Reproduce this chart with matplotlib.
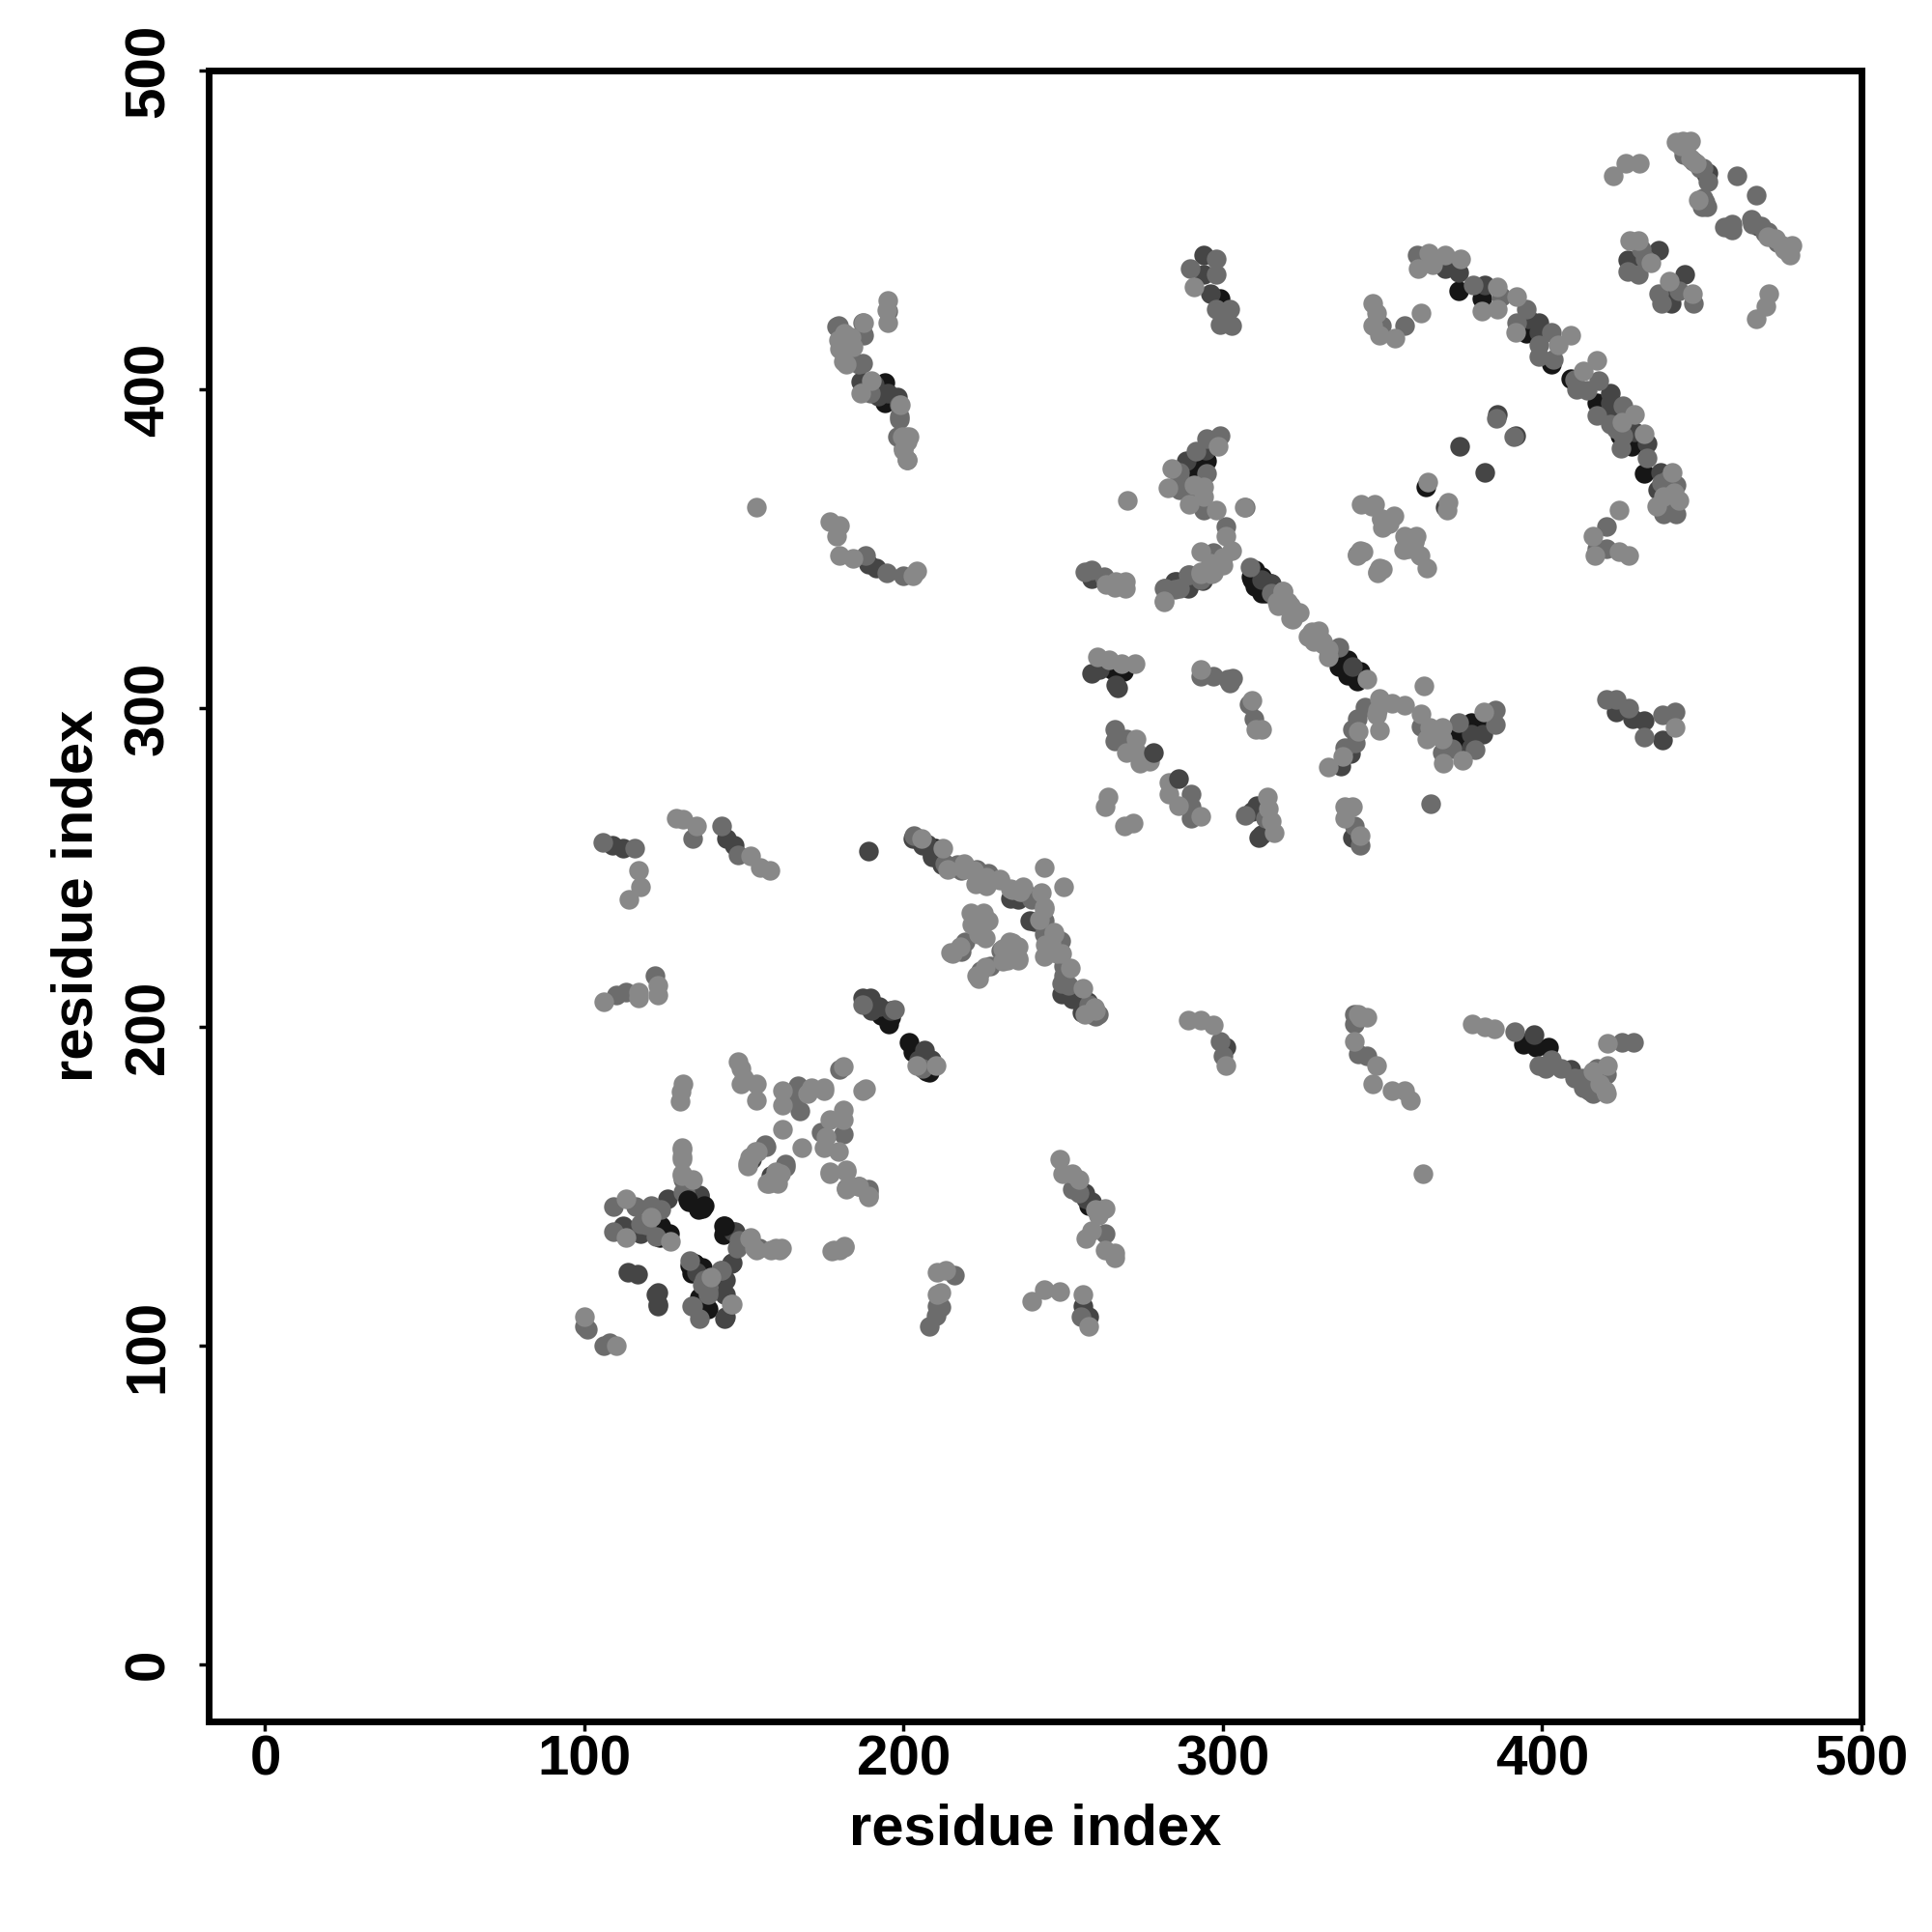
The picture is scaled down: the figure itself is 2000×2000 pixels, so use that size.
import matplotlib
matplotlib.use('Agg')
import matplotlib.pyplot as plt

# contact map points, one list per grey tone
light_pts = [
    (106,208),(117,211),(123,213),(123,210),(117,209),
    (148,189),(149,187),(150,184),(149,182),(154,182),(154,177),(162,180),(162,175.5),(171,181),(175,181),(175,180),
    (170,179),(181,187.7),(188,180.6),(187,180),(162,168),(168,162),(181,174),(181,171),(177,171),(175.6,165.5),
    (175,162),(179.7,161),(177,154),(182,155),(182,149),(186,150),(189,147),(153.6,161),(152,159),(151,157.4),
    (160.6,154),(159,152),(157.7,151),(160.6,151),
    (131,182),(130.4,179.6),(130,176.6),(130.7,162),(130.7,159.4),(130.7,154),(134,152),
    (113,146),(113,134),(127,132.6),(152,134),(154,130),(161,130),(158.3,130),(178,130),(181.4,131),(180,130),
    (146,113),(100,109),(110,100),(211.6,116.5),(210.4,116),(210.4,123),(213.3,123.6),
    (240,114),(244,117.5),(249,117),(256,116),(258,106),
    (249,158.4),(249.8,154),(252.7,154),(255,152),(263,143),(260,142.7),(259,136),(257,133.6),(263,130),(266,129),(266,127.6),
    (222,249),(226,247),(230,246),(234,243),(243,242),(244,250),(250,244),
    (244,237),(246,226),(248,223),(260,205),(247,229),
    (214.7,223.3),(217.8,225),(221.6,232),(225.5,234),(223.6,229),(221.6,235),(225.5,228),
    (222.8,216),(225.5,218.7),(231,224.5),(234,226.4),(236,221.4),(231,220.6),
    (117,249),(117.4,244),(114,240),(128.6,265.5),(131,265),(135,263),(152,253.5),(155,250),(158,249),
    (154,363),(177,358.6),(180,357.4),(179,354),(180,348),(184,347),(204,343),(203,341.6),
    (195,428),(194.6,424.7),(195,420.8),(181.5,417.7),(180,412.7),(183,414),(182,408),(199.6,385),(201.6,385),(200,381),(201,378),
    (291,432),(347,427),(348,424),(347,420),(349,417),(354,416),(362,424),
    (361,438),(364.5,442.7),(365.7,439),(369.6,442),(374.3,441),(385.9,432),(381,424.5),(385.9,425),(392,429),(391.6,418),
    (409,417),(405,414),(417,409),(413,405.8),(428.8,392.2),(425,389.7),(431.8,386),(440.7,374),(438,366.5),(442.8,365),
    (364,371),(370.6,364.4),(370.3,362),
    (343.4,364),(347.6,364),(349.7,359.4),(353.6,360.4),(352,358),(342,348),(344,349),(349,344),(348.3,342.4),
    (356.8,354),(360,352),(361.8,348),(363.7,344),(358,350),(358.6,353.3),(360.6,354),
    (422.3,467),(426.3,471),(430.3,471),(442,477.5),(446.4,478),(444,478),(470.7,447.8),(475.7,444),(478.2,445),(477.7,442),
    (427.3,446.7),(430.2,446.7),(433.9,439.7),(439.8,434),(447,430),(471,430),(470,426),(467,422),
    (424,362),(416,354),(424,349),(427,347.8),(416.6,348),
    (263.3,338.7),(266.3,339.7),(269.3,339.7),(266,338),(269.3,337.7),(281.4,333.2),(293,342.8),(297,342.3),(300,344.8),(296,345.3),
    (301,353.8),(302.6,349.3),(293,349),(300,347.3),(296.5,342),(293,342),(306.6,363),(270,365),
    (318.8,336.7),(316.8,333.2),(320.3,333.2),(323.8,330.1),(321.3,328.1),(329.9,324.1),(328.4,321),(331.4,320),(332.9,316),(345,309),
    (349,303),(363,307),(357,301),(353,301.4),(348.5,299.3),(349,293),(348,298),(342.5,292.8),(337.4,284.7),(333,281.5),
    (361.9,298.3),(364.7,293.8),(368.7,293.8),(363.7,290.2),(368.7,290.2),(369,282.7),(375,283.7),(381.8,298.8),
    (260.8,316),(264.3,315),(268.3,314),(272.4,314),(293,312),(309.2,302.4),(310.2,293.3),(312.2,293.3),
    (272.9,290.2),(269.8,286.2),(273,286),(273.9,282.7),(276.9,283.2),(283,276.6),(283,273),(286,269.5),(293,266),
    (264,272),(263,269),(269,263),(272,264),
    (314,272),(314.2,268.5),(315.2,264.5),(316,261),
    (338,269),(340.5,269),(338,265.5),(343,260),
    (289,202),(293,202),(297,200.5),(301,188),(342.5,204),(341,195.5),(348,188),(347,182),(353,180),(357,180),(358.7,177),(362.5,154),
    (378,201),(382,200),(385,199.4),(419.7,180),(420.5,187.8),(420.5,194.7),(441.7,294),
    # second pass
    (205.7,259),(212.3,255.9),(213.8,249.3),(218.9,251.3),(218.9,249.3),(222.4,244.8),(226,244.3),(230,246.3),(233.5,243.3),(237.5,243.8),(236.5,242.3),
    (244,237.7),(242.6,233.7),(247.1,229.6),(244.4,225.6),(244.1,222),(249.6,223),(252.2,218.5),(256.2,212),(259.7,205.9),(256.7,203.9),
    (220.9,235.7),(224.9,235.7),(221.4,232.2),(226.4,233.2),(215.3,223),(233,226.6),(236,225),(232.5,221),(236,221),(223.4,215),
    (298.5,382),(284,375),(282.9,369),(291,370),(294,369.5),(294,366.4),(289.5,364),(298,362),
    (281.4,333.6),(318.7,336.7),(317.2,332.1),(321.2,332.1),(323.3,330),(321.8,328),(329.8,323),(331.3,321),(327.8,324),(326.5,322.5),(330,322),(333,318.5),
    (346.5,363.4),(350,356.8),(349.5,359.4),(351.5,357.9),(343,349.3),(350,343.7),(348.5,342.7),(360,352.3),(356.6,349.8),
    (187.5,420.9),(179.5,415.4),(183.5,416.4),(184,413.4),(180.5,412.4),(181,408.8),(190,402.8),(186.5,398.7),(199,395.2),(200.7,385),(201.2,383.6),
    (130.5,161.5),(130.5,158.4),(130.5,153.4),(121,140.3),(151.7,133.7),(153.2,130.7),(159.8,130.7),(161.8,130.7),(177.4,129.7),(181.5,131.2),
    (139.6,121.6),(146.2,113),(154.2,161),(151.7,159),(151.2,156.4),(159.8,154.4),(158.8,151.9),(157.3,150.9),(161.3,153.9),(177,154.4),(182,154.4),(189,146.8),(183,150.4),
    (443.4,476.5),(446.4,472.5),(448.4,471),(449,459.4),(473.1,447.3),(475.2,445.2),(477.2,442.7),(441.4,367.5),(435.8,363.4),
    (204,188),(210,188),(261,141),(343,203),(345,203),(416,186),(418,182),(420,179),
]
mid_pts = [
    (110,210),(113,211),(122,216),(167,181.6),(167.5,173.5),(166,177.6),(180,186.7),(174,167),(181,166.5),(183,150),(189,149),
    (156.5,163),(163,156),(131,152),(131.6,148.3),
    (109,143.7),(116,143.7),(121,144),(124,142.7),(109,135.7),(119.4,138),(148.4,133),(147.8,130.6),
    (138.6,121),(143,123.6),(138.6,117),(134,112.5),(136,108.4),(136.8,119),
    (100,106),(101,105),(106,100),(108,101),(208,106),(210,109.4),(210.4,112.5),(211.6,112),(216,122),(255.6,109),(252.7,149),(263,135),
    (215,250),(218,249),(238,242),(240,240),(243,233),(244,229),(250,219),(250,216),(258,207),(261,204),(249,224),
    (105.8,258),(115.8,256),(134,259),(143,263),(148,254),(188,348),(194.6,342.4),(200,341.6),
    (187,421),(179,419.6),(187,417.7),(186,408),(198.5,395),(198.5,391.4),(187,399),
    (289.6,438),(298,440.8),(298,436),(298,425),(302,425),(302.7,420),(299,420.4),(349.6,420),(357,420),
    (360.7,442),(378.4,432.6),(387,429),(395,425),(392,421),(403,418),(398.9,414),(398.9,410.4),(403.6,409.4),(410,403),(410.7,400),
    (414,399.8),(417.7,402.8),(417,391.7),(425.2,394.7),(421.2,389),(424.7,381.6),(432.8,378.6),(437.3,370.5),(442,370),(438,361),(442,361),
    (385.5,391),(391,385),(444.4,473.5),(447.5,471.5),(449.5,469.5),(452,465),(450.5,460),(451.5,457.4),(461,467),(467,461),
    (457,451),(459.5,450),(459.5,451.8),(465.7,451.8),(469.7,449),(473.7,446.2),
    (430.9,444),(432.3,441),(426.8,437),(430.2,436),(436.4,430),(437.3,427),(447.3,427),(442.9,431),
    (420,357),(417,350),(420,350),
    (256.7,342.8),(258.7,343.3),(262.8,341.3),(281.4,337.7),(285,337.2),(289,341.8),(293,340.2),
    (336.4,319),(344.5,300.3),(342,296.8),(340.5,293.3),(338,287.7),(341.5,289.2),
    (361.9,294.3),(368.7,286.2),(373.8,295.3),(385.4,299.3),(385.4,294.8),(371.7,287.2),(379,287),(365,270),
    (293,310),(297,310),(301.6,309),(303,309.4),(302,308),(308.2,301.3),(309.7,296.8),
    (266,293.3),(266,289.7),(269.8,290.2),(290,273),(290,269),(290,265.5),
    (307,266.5),(313.2,265.5),(341,263),(343,257),
    (299,195.5),(300,191),(341.3,201),(342.5,191.6),(345,191),(391.5,198.6),(399,187.8),(403,189.7),(412.7,184),(414.7,180),(418.5,180),(417,187),
    (425,195),(428.6,195),(420,302.6),(423,302.6),(427,300),(432,291),(437.8,298),(441.7,298.7),
    # second pass
    (203.2,260),(212.8,251.3),(216.8,250.8),(222.9,249.3),(226.4,248.3),(244,233.2),(249.1,227),(249.6,213.5),(251.7,213),(260.2,203.4),
    (223.9,230.1),(219.2,226.8),(217.9,223.6),(230.5,224),(227,219),(224,217.5),
    (299,385.6),(295,384.6),(291.5,380.6),(295,373.5),(286.4,374),(286.4,372),(286.4,368.5),(290,367),(294,362),(307,363),
    (301,357),(297,348.8),(289.5,341.7),(281.9,337.7),(286.4,337.7),(308.6,344.2),(315.2,336.2),(342,348.3),
    (179.5,420),(187.5,416.9),(180.5,416.9),(183.5,408.8),(187,408.3),(189.6,398.7),(198.6,390.6),(198.1,385),(199.7,381.5),(201.2,378),(195,424.5),
    (131,148.3),(117.4,138.2),(122.5,134.2),(154.7,130.7),(133,126.6),(137.6,120.6),(142.6,123.6),(138.6,116),(133.6,112.5),(138.6,118.5),
    (156.8,162.5),(162.8,157),(182,149.4),(186,149.9),(189,148.3),
    (444.9,474.5),(450.4,469.5),(451,458.9),(450,457.4),(465.6,453.3),(468.6,451.3),(470.6,449.3),(439.3,371.5),(440.3,363.4),(425.2,385.6),(423.2,387.7),
    (187,207),(197,205.5),(206,187),(255,148),(401,187),(406,187),(410,184),(413,181),(416,179),(420,185),(341,204),
]
dark_pts = [
    (133,146),(136,147),(126,146),(116.5,135.7),(112,137.7),(146.7,135.7),(113.6,123),(116.5,122.5),(123,116.5),(123,113),
    (146,125.6),(144,120.5),(144,116),(144,108.4),(135,123),(256,112.5),(258,109),(256.8,147.8),(259,145),(260.8,142),
    (187,209),(189.5,209),(189.5,206),(192.4,206.4),(206.4,192.7),(204.6,189.7),(208.7,189.7),(196,205),
    (203,259),(206,257),(209,254),(212,251),(236,240),(251,213),(254,211),(256,209),(259,204),(241,233),
    (108.9,257),(112,256),(144.4,259),(147,257),(189,255),(189,345),(191.5,344),
    (187,402),(190.7,401.5),(192,398),(294,442),(296,430),(294,436),
    (369.6,438),(373.7,436.6),(382,432.6),(395.5,422),(398.9,421),(398.9,418),(421.2,398.8),(421.2,395.7),(428.8,386.6),(432.8,383),(437,374),
    (374,382),(386,392),(391.6,385.6),(382,374),(369.5,363),
    (452,468),(467.7,451.3),(436.4,443.7),(426.8,440.7),(444.5,436),(440.3,432),(440.3,427),
    (258.7,340.7),(285,339.7),(289,337.7),(315.2,339.2),(340.5,313),(340,285.7),(337,281.7),
    (377.8,291.8),(377.8,287.7),(381.3,291.8),
    (258.7,311),(261.3,312),(266.3,307.4),(267,306.5),
    (309,267.5),(310.7,269.5),(311.2,259.4),(312.2,260.4),(340.5,259.4),
    (301,193.6),(397.3,197.5),(409,186.6),(423,298.7),(428.2,296.8),(432,296),(437.8,290),
    # second pass
    (207.3,257.4),(208.8,253.4),(233.5,240.2),(239.5,233.4),(249.6,210.4),(252.7,208.9),(257.7,207.9),(255.7,204.4),
    (294.5,381),(288.5,377.6),(285.4,339.7),(289,338),(293.5,340),(312.2,340.2),
    (186.5,402.3),(195,398.7),(198.1,397.7),
    (136,147.3),(117.4,135.2),(147.2,135.7),(146.2,125.9),(144.2,120.6),(144.2,116),(144.2,109),(122.5,116),(123,112.5),(152.2,158.4),(158.3,153.4),
    (451.4,467.5),(436.3,368.5),(421.2,393.7),(190,205),(257,146),
]
black_pts = [
    (132.8,145),(112.5,136.7),(123.5,136.7),(125.8,135.2),(123.5,134),(143.8,135),
    (134.5,125.6),(133,125),(135.7,123.6),(136.2,115),(138.6,111.5),(136,112),
    (195.3,201),(196,203),(201.7,195),(203,192),(208,185.7),(194,402),(194,395.7),(299,428.5),
    (373.7,431),(381,428.6),(395,417.5),(403,407.9),(409,403.3),(417,395.7),(421.2,391.7),(424.3,385.6),(428,382),(431.8,373.5),
    (363.6,369.5),(430.2,438),
    (310,343.3),(308.7,341.3),(312.2,341.3),(310,338.2),(313.2,336.2),(339,315),(336.4,313),(339,310.4),(343,311.4),(342,308.4),
    (373.8,291.3),(377.8,295.3),(381.3,294.3),(374.8,287.2),(265.3,312),(268.8,311.5),
    (394,194.4),(398,193.6),(402,193.6),
    # second pass
    (209.8,255.9),(295,377.6),(290.5,377.6),(290.5,373.5),(310.7,342.2),(309.2,340.2),(314.7,339.2),(312.2,336.2),
    (124,137.7),(126.5,135.2),(124.5,134.2),(143.6,137.7),(143.6,134.7),(134.6,125.6),(137,124.6),(133.6,122.6),(136.1,115),(138.1,111.5),
    (193,203.5),(207,186),(258,144),(395,195),
]
# these few sit on top of the lighter ones
top_dark_pts = [(278.1,286),(286,278)]
top_black_pts = [(132.5,145.8),(136.6,143.3),(137.6,143.8),(135.6,142.8),(137,143),(135.7,143),(143.8,137.7)]

tick_vals = [0, 100, 200, 300, 400, 500]
gray_light = '#888888'
gray_mid = '#6c6c6c'
gray_dark = '#454545'
gray_black = '#161616'

plt.rcParams['font.family'] = ['Liberation Sans', 'DejaVu Sans']
plt.rcParams['font.weight'] = 'bold'

fig = plt.figure(figsize=(20, 20), dpi=100)
ax = fig.add_axes([0.108, 0.109, 0.8555, 0.8545])

layers = [(black_pts, gray_black), (dark_pts, gray_dark), (mid_pts, gray_mid), (light_pts, gray_light),
          (top_dark_pts, gray_dark), (top_black_pts, gray_black)]
for pts, col in layers:
    xs = [p[0] for p in pts]
    ys = [p[1] for p in pts]
    ax.scatter(xs, ys, s=215, c=col, linewidths=0)

ax.set_xlim(-17.7, 500)
ax.set_ylim(-17.9, 500)
ax.set_xticks(tick_vals)
ax.set_yticks(tick_vals)
ax.tick_params(axis='x', length=7, width=2.5, labelsize=42, pad=3)
ax.tick_params(axis='y', length=7, width=2.5, labelsize=42, pad=18)
for lab in ax.get_yticklabels():
    lab.set_rotation(90)
    lab.set_va('center')
ax.set_xlabel('residue index', fontsize=43, fontweight='bold', labelpad=12)
ax.set_ylabel('residue index', fontsize=43, fontweight='bold', labelpad=14)
for sp in ax.spines.values():
    sp.set_linewidth(5)

plt.savefig('out.png', dpi=100)
